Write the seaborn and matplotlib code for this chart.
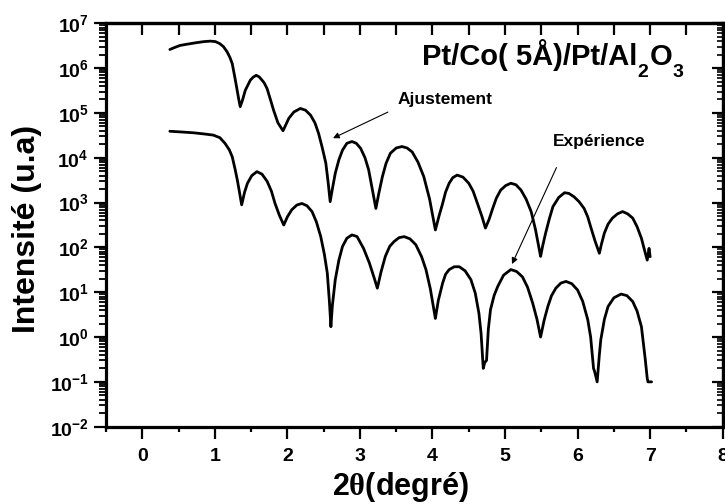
import matplotlib
matplotlib.use('Agg')
import matplotlib.pyplot as plt
import seaborn as sns
import pandas as pd
from matplotlib.ticker import FixedLocator, MultipleLocator, LogLocator, NullFormatter

# --- Données (2theta en degrés, intensité u.a)
x_ajust = [0.38, 0.45, 0.52, 0.61, 0.75, 0.85, 0.94, 1.01, 1.07, 1.12, 1.17, 1.21, 1.24, 1.27, 1.30,
           1.33, 1.35, 1.38, 1.42, 1.49, 1.53, 1.57, 1.61, 1.65, 1.68, 1.72, 1.77, 1.81, 1.87, 1.94,
           1.98, 2.02, 2.09, 2.18, 2.25, 2.32, 2.38, 2.43, 2.48, 2.53, 2.56, 2.59, 2.62, 2.66, 2.71,
           2.76, 2.82, 2.89, 2.95, 3.01, 3.07, 3.12, 3.17, 3.22, 3.26, 3.31, 3.36, 3.42, 3.50, 3.58,
           3.65, 3.72, 3.80, 3.88, 3.96, 4.04, 4.09, 4.14, 4.18, 4.23, 4.28, 4.34, 4.42, 4.50, 4.56,
           4.62, 4.68, 4.73, 4.78, 4.83, 4.88, 4.94, 5.01, 5.08, 5.15, 5.22, 5.29, 5.36, 5.42, 5.49,
           5.52, 5.56, 5.61, 5.66, 5.74, 5.82, 5.88, 5.95, 6.02, 6.09, 6.14, 6.18, 6.24, 6.30, 6.33,
           6.37, 6.42, 6.48, 6.55, 6.62, 6.69, 6.76, 6.82, 6.88, 6.92, 6.96, 6.985, 7.00]
y_ajust = [2.6e6, 2.9e6, 3.2e6, 3.4e6, 3.7e6, 3.9e6, 4.0e6, 3.9e6, 3.5e6, 3.0e6, 2.3e6, 1.7e6, 1.26e6, 7e5, 3.8e5,
           2.0e5, 1.38e5, 1.9e5, 3.2e5, 5.4e5, 6.3e5, 6.9e5, 6.4e5, 5.4e5, 4.7e5, 3.5e5, 1.9e5, 1.15e5, 6.0e4, 4.0e4,
           5.5e4, 7.6e4, 1.05e5, 1.26e5, 1.15e5, 8.9e4, 6.0e4, 3.5e4, 1.7e4, 7.6e3, 3.0e3, 1.05e3, 2.0e3, 4.5e3, 9.0e3,
           1.48e4, 2.1e4, 2.3e4, 2.1e4, 1.62e4, 1.0e4, 5.4e3, 2.0e3, 740, 1.6e3, 3.8e3, 7.5e3, 1.26e4, 1.65e4, 1.78e4,
           1.65e4, 1.35e4, 8.0e3, 3.8e3, 1.2e3, 245, 500, 955, 1.7e3, 2.7e3, 3.6e3, 4.1e3, 3.7e3, 2.7e3, 1.8e3,
           955, 500, 270, 420, 740, 1.25e3, 1.9e3, 2.4e3, 2.7e3, 2.5e3, 1.9e3, 1.2e3, 630, 250, 63,
           110, 210, 430, 810, 1.3e3, 1.66e3, 1.6e3, 1.35e3, 1.05e3, 740, 480, 290, 140, 74, 120,
           210, 330, 450, 560, 630, 560, 450, 290, 160, 90, 52, 95, 62]

x_exp = [0.38, 0.55, 0.71, 0.85, 0.98, 1.07, 1.14, 1.20, 1.24, 1.28, 1.31, 1.34, 1.37, 1.41, 1.45,
         1.51, 1.58, 1.65, 1.72, 1.78, 1.83, 1.89, 1.95, 2.00, 2.06, 2.13, 2.20, 2.27, 2.34, 2.40,
         2.46, 2.51, 2.55, 2.58, 2.60, 2.62, 2.66, 2.71, 2.76, 2.82, 2.89, 2.96, 3.05, 3.13, 3.20,
         3.24, 3.29, 3.35, 3.41, 3.47, 3.54, 3.61, 3.69, 3.77, 3.85, 3.91, 3.97, 4.01, 4.04, 4.08,
         4.14, 4.18, 4.23, 4.30, 4.37, 4.45, 4.53, 4.59, 4.64, 4.67, 4.70, 4.72, 4.745, 4.77, 4.80,
         4.85, 4.90, 4.98, 5.08, 5.16, 5.24, 5.31, 5.38, 5.44, 5.49, 5.54, 5.59, 5.64, 5.70, 5.77,
         5.84, 5.92, 6.00, 6.07, 6.14, 6.18, 6.22, 6.235, 6.27, 6.30, 6.32, 6.37, 6.42, 6.50, 6.60,
         6.68, 6.76, 6.82, 6.88, 6.93, 6.96, 6.97, 7.02]
y_exp = [3.9e4, 3.75e4, 3.6e4, 3.4e4, 3.2e4, 2.8e4, 2.1e4, 1.5e4, 1.05e4, 5.5e3, 3.2e3, 1.7e3, 890, 1.7e3, 2.7e3,
         4.0e3, 4.9e3, 4.3e3, 3.0e3, 1.8e3, 955, 520, 316, 480, 690, 880, 955, 850, 630, 370,
         174, 70, 27, 6, 1.7, 5, 19, 52, 105, 160, 190, 175, 95, 45, 20,
         12.3, 28, 63, 105, 135, 165, 174, 155, 115, 62, 32, 12, 5, 2.6, 6.5,
         16, 25, 32, 37, 37, 30, 19, 9.5, 3.4, 1.2, 0.2, 0.27, 0.3, 1.5, 4.1,
         8.5, 13.5, 24, 32, 29, 22, 13, 5.8, 2.5, 1.0, 2.4, 4.8, 8.3, 12.3, 16,
         17.4, 15.5, 11.2, 6.3, 2.45, 1.0, 0.2, 0.17, 0.1, 0.4, 0.87, 2.5, 4.8, 7.5, 9.1,
         8.4, 6.2, 3.8, 1.7, 0.35, 0.12, 0.1, 0.1]

xticks = [0, 1, 2, 3, 4, 5, 6, 7, 8]
yticks = [1e-2, 1e-1, 1e0, 1e1, 1e2, 1e3, 1e4, 1e5, 1e6, 1e7]
ytick_labels = [r'$10^{-2}$', r'$10^{-1}$', r'$10^{0}$', r'$10^{1}$', r'$10^{2}$',
                r'$10^{3}$', r'$10^{4}$', r'$10^{5}$', r'$10^{6}$', r'$10^{7}$']

# titre découpé pour abaisser les indices comme sur l'original
titre_morceaux = [('Pt/Co( 5Å)/Pt/Al', False), ('2', True), ('O', False), ('3', True)]

df_ajust = pd.DataFrame({'x': x_ajust, 'y': y_ajust})
df_exp = pd.DataFrame({'x': x_exp, 'y': y_exp})

# --- Style
sns.set_style('ticks')
plt.rcParams['font.family'] = ['Liberation Sans', 'DejaVu Sans']
plt.rcParams['font.weight'] = 'bold'
plt.rcParams['text.color'] = 'black'
plt.rcParams['axes.labelcolor'] = 'black'
plt.rcParams['axes.edgecolor'] = 'black'
plt.rcParams['xtick.color'] = 'black'
plt.rcParams['ytick.color'] = 'black'
plt.rcParams['mathtext.fontset'] = 'custom'
plt.rcParams['mathtext.rm'] = 'Liberation Serif'
plt.rcParams['mathtext.bf'] = 'Liberation Sans:bold'
plt.rcParams['mathtext.default'] = 'bf'

fig = plt.figure(figsize=(7.25, 5.04), dpi=100)
ax = fig.add_axes([0.1462, 0.1534, 0.8506, 0.8004])

sns.lineplot(data=df_ajust, x='x', y='y', sort=False, estimator=None, color='black', lw=2.0, ax=ax)
sns.lineplot(data=df_exp, x='x', y='y', sort=False, estimator=None, color='black', lw=2.0, ax=ax)

ax.set_yscale('log')
ax.set_xlim(-0.5, 8)
ax.set_ylim(1e-2, 1e7)

ax.xaxis.set_major_locator(FixedLocator(xticks))
ax.xaxis.set_minor_locator(MultipleLocator(0.5))
ax.set_xticklabels([str(t) for t in xticks])
ax.yaxis.set_major_locator(FixedLocator(yticks))
ax.set_yticklabels(ytick_labels)
ax.yaxis.set_minor_locator(LogLocator(base=10, subs=range(2, 10), numticks=20))
ax.yaxis.set_minor_formatter(NullFormatter())

ax.tick_params(axis='x', which='major', direction='out', length=8.4, width=1.6, pad=7, labelsize=14)
ax.tick_params(axis='x', which='minor', direction='out', length=3.6, width=1.6)
ax.tick_params(axis='y', which='major', direction='out', length=9, width=1.6, pad=3.5, labelsize=14)
ax.tick_params(axis='y', which='minor', direction='out', length=4.8, width=1.3)

for s in ax.spines.values():
    s.set_linewidth(2.3)

# axes secondaires pour les graduations internes en haut et à droite
top = ax.secondary_xaxis('top')
top.xaxis.set_major_locator(FixedLocator(xticks))
top.xaxis.set_minor_locator(MultipleLocator(0.5))
top.tick_params(axis='x', which='both', direction='in', length=8.4, width=1.6, labeltop=False)
top.spines['top'].set_linewidth(2.3)

right = ax.secondary_yaxis('right')
right.yaxis.set_major_locator(FixedLocator(yticks))
right.yaxis.set_minor_locator(LogLocator(base=10, subs=range(2, 10), numticks=20))
right.yaxis.set_minor_formatter(NullFormatter())
right.tick_params(axis='y', which='major', direction='in', length=8, width=1.6, labelright=False)
right.tick_params(axis='y', which='minor', direction='in', length=4, width=1.2, labelright=False)
right.spines['right'].set_linewidth(2.3)

ax.set_xlabel(r'2$\mathrm{\theta}$(degré)', fontsize=22, fontweight='bold')
ax.set_ylabel('Intensité (u.a)', fontsize=23, fontweight='bold')
ax.xaxis.set_label_coords(0.477, -0.108)
ax.yaxis.set_label_coords(-0.103, 0.49)

# --- Titre (Pt/Co( 5Å)/Pt/Al2O3)
base_y = 0.897
prev = ax.text(0.512, base_y, titre_morceaux[0][0], transform=ax.transAxes,
               fontsize=21, fontweight='bold', ha='left', va='baseline')
for txt, indice in titre_morceaux[1:]:
    prev = ax.annotate(txt, xy=(1, base_y), xycoords=(prev, 'axes fraction'),
                       xytext=(0.5, -9 if indice else 0), textcoords='offset points',
                       fontsize=14 if indice else 21, fontweight='bold',
                       ha='left', va='baseline')

ax.text(0.4735, 0.801, 'Ajustement', transform=ax.transAxes, fontsize=12.5,
        fontweight='bold', ha='left', va='baseline')
ax.annotate('', xy=(2.594, 2.57e4), xytext=(3.42, 1.11e5),
            arrowprops=dict(arrowstyle='-|>', color='black', lw=0.8, mutation_scale=9))

ax.text(0.7248, 0.696, 'Expérience', transform=ax.transAxes, fontsize=12.5,
        fontweight='bold', ha='left', va='baseline')
ax.annotate('', xy=(5.08, 37.3), xytext=(5.725, 6.87e3),
            arrowprops=dict(arrowstyle='-|>', color='black', lw=0.8, mutation_scale=9))

fig.savefig('out.png', dpi=100)
plt.close()
